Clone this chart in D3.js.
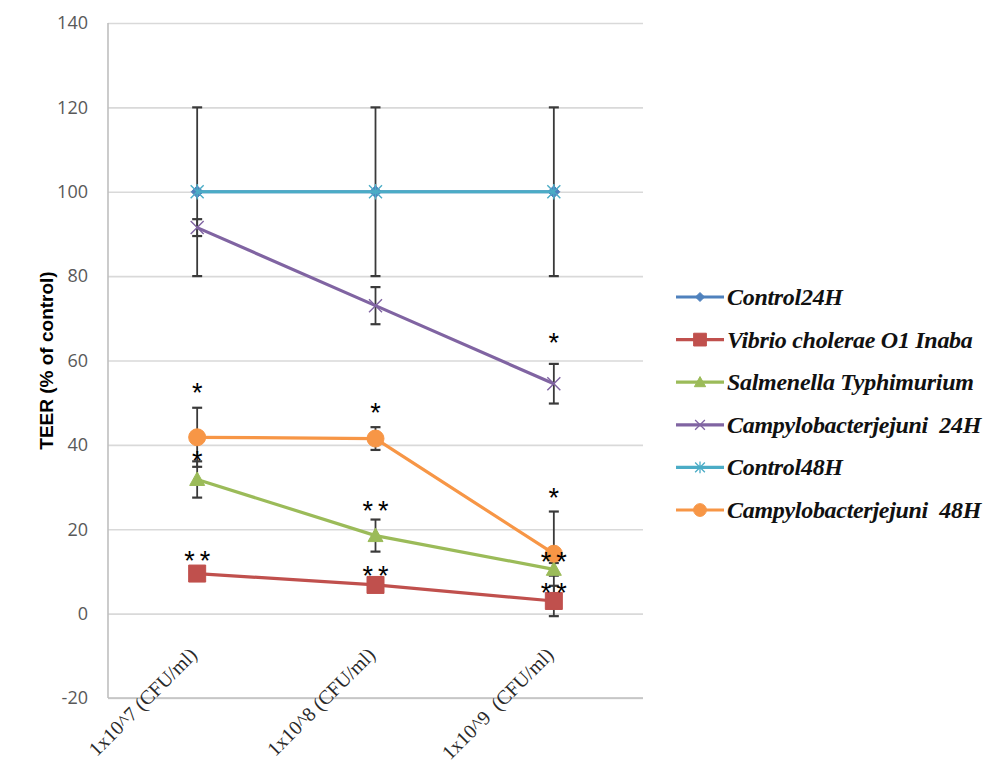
<!DOCTYPE html>
<html>
<head>
<meta charset="utf-8">
<script src="https://cdn.jsdelivr.net/npm/d3@7"></script>
<style>
  html, body { margin: 0; padding: 0; background: #ffffff; }
  svg { display: block; }
</style>
</head>
<body>
<svg id="chart" width="988" height="781"></svg>
<script>
// Inoculum doses on the x axis
const categories = ["1x10^7 (CFU/ml)", "1x10^8 (CFU/ml)", "1x10^9  (CFU/ml)"];
const yTicks = [-20, 0, 20, 40, 60, 80, 100, 120, 140];

// TEER (% of control) per series, with error bar half-widths
const control24 = [100, 100, 100];
const control24Err = [20, 20, 20];
const vibrio = [9.5, 6.8, 3.0];
const vibrioErr = [1, 1, 3.6];
const salmonella = [31.8, 18.5, 10.5];
const salmonellaErr = [4.3, 3.8, 1.5];
const campy24 = [91.5, 73, 54.5];
const campy24Err = [2, 4.4, 4.7];
const control48 = [100, 100, 100];
const control48Err = [0, 0, 0];
const campy48 = [41.8, 41.5, 14.2];
const campy48Err = [7, 2.7, 10];

const seriesNames = ["Control24H", "Vibrio cholerae O1 Inaba", "Salmenella Typhimurium",
                     "Campylobacterjejuni  24H", "Control48H", "Campylobacterjejuni  48H"];

// Significance marks: category index, level (in % units) and label
const sigCats = [0, 0, 0, 1, 1, 1, 2, 2, 2, 2];
const sigLevels = [53.8, 37.6, 14, 49, 25.8, 10.4, 65.6, 28.9, 13.7, 6.3];
const sigLabels = ["*", "*", "**", "*", "**", "**", "*", "*", "**", "**"];

const series = [
  { name: seriesNames[0], values: control24, err: control24Err, color: "#4F81BD", marker: "diamond" },
  { name: seriesNames[1], values: vibrio, err: vibrioErr, color: "#C0504D", marker: "square" },
  { name: seriesNames[2], values: salmonella, err: salmonellaErr, color: "#9BBB59", marker: "triangle" },
  { name: seriesNames[3], values: campy24, err: campy24Err, color: "#8064A2", marker: "x" },
  { name: seriesNames[4], values: control48, err: control48Err, color: "#4BACC6", marker: "star" },
  { name: seriesNames[5], values: campy48, err: campy48Err, color: "#F79646", marker: "circle" }
];

const svg = d3.select("#chart");
const plot = { left: 108, right: 643, top: 23, bottom: 698 };

const x = d3.scaleBand().domain(categories).range([plot.left, plot.right]).padding(0);
const cx = c => x(c) + x.bandwidth() / 2;
const y = d3.scaleLinear().domain([-20, 140]).range([plot.bottom, plot.top]);

// Horizontal gridlines and value labels
const yAxis = d3.axisLeft(y).tickValues(yTicks).tickSize(-(plot.right - plot.left)).tickPadding(20).tickFormat(d => String(d));
const gy = svg.append("g").attr("transform", `translate(${plot.left},0)`).call(yAxis);
gy.select(".domain").remove();
gy.selectAll(".tick line").attr("stroke", "#D9D9D9").attr("stroke-width", 1.6);
gy.selectAll(".tick text")
  .attr("font-family", "'Open Sans', sans-serif")
  .attr("font-size", 18)
  .attr("fill", "#595959");

// Axis lines
svg.append("line").attr("x1", plot.left).attr("x2", plot.left)
  .attr("y1", plot.top).attr("y2", plot.bottom)
  .attr("stroke", "#BFBFBF").attr("stroke-width", 1.6);
svg.append("line").attr("x1", plot.left).attr("x2", plot.right)
  .attr("y1", plot.bottom).attr("y2", plot.bottom)
  .attr("stroke", "#BFBFBF").attr("stroke-width", 1.6);

// Category labels, rotated
const xAxis = d3.axisBottom(x).tickSize(0).tickPadding(0);
const gx = svg.append("g").attr("transform", `translate(0,${plot.bottom})`).call(xAxis);
gx.select(".domain").remove();
gx.selectAll(".tick text")
  .attr("font-family", "'Liberation Serif', 'Times New Roman', serif")
  .attr("font-size", 20)
  .attr("fill", "#2a2a2a")
  .attr("text-anchor", "end")
  .attr("dy", 0)
  .attr("transform", "translate(1,-42) rotate(-45)")
  .style("white-space", "pre")
  .attr("xml:space", "preserve");

// Y axis title
svg.append("text")
  .attr("transform", `translate(53,${(plot.top + plot.bottom) / 2}) rotate(-90)`)
  .attr("text-anchor", "middle")
  .attr("font-family", "'Liberation Sans', Arial, sans-serif")
  .attr("font-weight", "bold")
  .attr("font-size", 19)
  .attr("fill", "#000")
  .text("TEER (% of control)");

// Marker symbols
function markerPath(kind, size) {
  const s = size / 2;
  switch (kind) {
    case "diamond": return `M0,${-s}L${s},0L0,${s}L${-s},0Z`;
    case "square": return `M${-s},${-s}H${s}V${s}H${-s}Z`;
    case "triangle": return `M0,${-s}L${s},${s * 0.8}L${-s},${s * 0.8}Z`;
    case "circle": return d3.symbol(d3.symbolCircle, Math.PI * s * s)();
    case "x": return `M${-s},${-s}L${s},${s}M${-s},${s}L${s},${-s}`;
    case "star": return `M${-s},${-s}L${s},${s}M${-s},${s}L${s},${-s}M0,${-s * 1.2}V${s * 1.2}`;
  }
}
const markerSize = { diamond: 12, square: 17, triangle: 15, circle: 17, x: 13, star: 13 };

const line = d3.line().x((d, i) => cx(categories[i])).y(d => y(d));

// Error bars
series.forEach(s => {
  s.values.forEach((v, i) => {
    if (!s.err[i]) return;
    const px = cx(categories[i]);
    const g = svg.append("g").attr("stroke", "#3a3a3a").attr("stroke-width", 1.8);
    g.append("line").attr("x1", px).attr("x2", px).attr("y1", y(v - s.err[i])).attr("y2", y(v + s.err[i]));
    [v - s.err[i], v + s.err[i]].forEach(e => {
      g.append("line").attr("x1", px - 5).attr("x2", px + 5).attr("y1", y(e)).attr("y2", y(e)).attr("stroke-width", 2.2);
    });
  });
});

// Lines and markers
series.forEach(s => {
  svg.append("path").datum(s.values).attr("d", line)
    .attr("fill", "none").attr("stroke", s.color).attr("stroke-width", 3.2);
  const open = s.marker === "x" || s.marker === "star";
  svg.append("g").selectAll("path").data(s.values).join("path")
    .attr("transform", (d, i) => `translate(${cx(categories[i])},${y(d)})`)
    .attr("d", markerPath(s.marker, markerSize[s.marker]))
    .attr("fill", open ? "none" : s.color)
    .attr("stroke", s.color)
    .attr("stroke-width", open ? 1.4 : 1);
});

// Significance marks
svg.append("g").selectAll("text").data(sigLabels).join("text")
  .attr("x", (d, i) => cx(categories[sigCats[i]]))
  .attr("y", (d, i) => y(sigLevels[i]) + 15)
  .attr("text-anchor", "middle")
  .attr("font-family", "'Liberation Sans', Arial, sans-serif")
  .attr("font-size", 27)
  .attr("letter-spacing", d => d.length > 1 ? 5 : 0)
  .attr("dx", d => d.length > 1 ? 2.5 : 0)
  .attr("fill", "#000")
  .text(d => d);

// Legend
const legend = svg.append("g").attr("transform", "translate(676,297)");
series.forEach((s, i) => {
  const g = legend.append("g").attr("transform", `translate(0,${i * 42.6})`);
  g.append("line").attr("x1", 0).attr("x2", 48).attr("y1", 0).attr("y2", 0)
    .attr("stroke", s.color).attr("stroke-width", 3.2);
  const open = s.marker === "x" || s.marker === "star";
  g.append("path").attr("transform", "translate(24,0)")
    .attr("d", markerPath(s.marker, markerSize[s.marker] * 0.75))
    .attr("fill", open ? "none" : s.color)
    .attr("stroke", s.color).attr("stroke-width", open ? 1.3 : 1);
  g.append("text").attr("x", 51).attr("y", 8)
    .attr("font-family", "'Liberation Serif', 'Times New Roman', serif")
    .attr("font-style", "italic").attr("font-weight", "bold")
    .attr("font-size", 24).attr("letter-spacing", -0.3)
    .attr("fill", "#111")
    .attr("xml:space", "preserve")
    .style("white-space", "pre")
    .text(s.name);
});
</script>
</body>
</html>
